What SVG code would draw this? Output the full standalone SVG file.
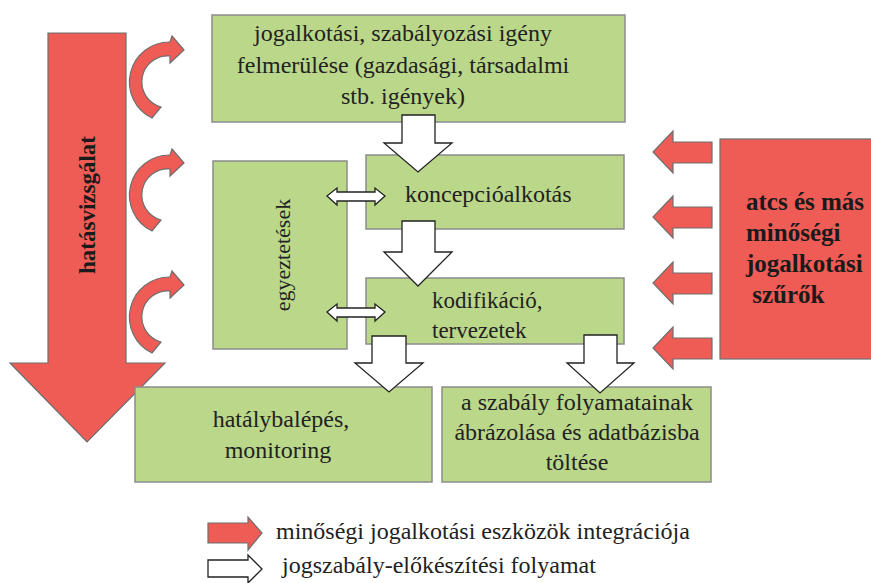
<svg xmlns="http://www.w3.org/2000/svg" width="871" height="583" viewBox="0 0 871 583">
<style>
.box{fill:#bbd88a;stroke:#8c8c8c;stroke-width:1.5}
.red{fill:#ef5b55;stroke:#6e6e6e;stroke-width:1.2}
.white{fill:#ffffff;stroke:#222;stroke-width:1.3}
text{font-family:'Liberation Serif',serif}
.t{font-size:24px;fill:#222}
.b{font-size:25px;font-weight:bold;fill:#1a1a1a}
</style>
<defs>
<path id="curl" d="M152,118 A40,40 0 0 1 170,42 L172,36 L184,50 L170,63 L170,56 A26,26 0 0 0 161,107 Z"/>
</defs>
<rect width="871" height="583" fill="#fff"/>

<g id="hatasvizsgalat">
<path class="red" d="M48,33 L126,33 L126,363 L165,363 L87,442 L10,363 L48,363 Z"/>
<text class="b" style="font-size:23px" transform="translate(95,205) rotate(-90)" text-anchor="middle">hatásvizsgálat</text>
</g>

<g id="curls">
<use href="#curl" class="red"/>
<use href="#curl" class="red" transform="translate(0,113)"/>
<use href="#curl" class="red" transform="translate(0,235)"/>
</g>

<g id="igeny">
<rect class="box" x="212" y="15" width="413" height="107"/>
<text class="t" x="403" y="41" text-anchor="middle">jogalkotási, szabályozási igény</text>
<text class="t" x="403" y="73" text-anchor="middle">felmerülése (gazdasági, társadalmi</text>
<text class="t" x="403" y="104" text-anchor="middle">stb. igények)</text>
</g>

<g id="egyeztetesek">
<rect class="box" x="213" y="161" width="134" height="188"/>
<text class="t" style="font-size:22px" transform="translate(290,255) rotate(-90)" text-anchor="middle">egyeztetések</text>
</g>

<g id="koncepcio">
<rect class="box" x="366" y="155" width="258" height="74"/>
<text class="t" x="405" y="202">koncepcióalkotás</text>
</g>

<g id="kodifikacio">
<rect class="box" x="366" y="278" width="258" height="66"/>
<text class="t" style="font-size:23px" x="432" y="308">kodifikáció,</text>
<text class="t" style="font-size:23px" x="432" y="338">tervezetek</text>
</g>

<g id="hatalybalepes">
<rect class="box" x="135" y="387" width="297" height="95"/>
<text class="t" x="281" y="427" text-anchor="middle">hatálybalépés,</text>
<text class="t" x="278" y="458" text-anchor="middle">monitoring</text>
</g>

<g id="adatbazis">
<rect class="box" x="442" y="387" width="269" height="95"/>
<text class="t" x="577" y="410" text-anchor="middle">a szabály folyamatainak</text>
<text class="t" x="577" y="440" text-anchor="middle">ábrázolása és adatbázisba</text>
<text class="t" x="577" y="470" text-anchor="middle">töltése</text>
</g>

<g id="szurok">
<rect class="red" x="720" y="139" width="160" height="220"/>
<text class="b" x="746" y="210">atcs és más</text>
<text class="b" x="746" y="241">minőségi</text>
<text class="b" x="746" y="272">jogalkotási</text>
<text class="b" x="746" y="303" xml:space="preserve"> szűrők</text>
</g>

<g id="connectors">
<path class="white" d="M402,115 L435,115 L435,143 L452,143 L418,172 L384,143 L402,143 Z"/>
<path class="white" d="M402,221 L435,221 L435,252 L452,252 L418,286 L384,252 L402,252 Z"/>
<path class="white" d="M372,336 L406,336 L406,363 L423,363 L389,392 L355,363 L372,363 Z"/>
<path class="white" d="M584,335 L617,335 L617,363 L634,363 L600,393 L567,363 L584,363 Z"/>
<path class="white" d="M327,196 L337,188 L337,192 L375,192 L375,188 L385,196 L375,205 L375,201 L337,201 L337,205 Z"/>
<path class="white" d="M327,312 L337,304 L337,308 L375,308 L375,304 L385,312 L375,321 L375,317 L337,317 L337,321 Z"/>
<path class="red" d="M712,142 L712,163 L673,163 L673,173 L653,152 L673,131 L673,142 Z"/>
<path class="red" d="M712,207 L712,228 L673,228 L673,238 L653,217 L673,196 L673,207 Z"/>
<path class="red" d="M712,273 L712,294 L673,294 L673,304 L653,283 L673,262 L673,273 Z"/>
<path class="red" d="M712,338 L712,359 L673,359 L673,369 L653,348 L673,327 L673,338 Z"/>
</g>

<g id="legend">
<path class="red" d="M208,523 L248,523 L248,517 L262,533 L248,550 L248,543 L208,543 Z"/>
<text class="t" x="276" y="539">minőségi jogalkotási eszközök integrációja</text>
<path class="white" d="M208,560 L248,560 L248,555 L262,569 L248,583 L248,577 L208,577 Z"/>
<text class="t" x="282" y="573">jogszabály-előkészítési folyamat</text>
</g>
</svg>
